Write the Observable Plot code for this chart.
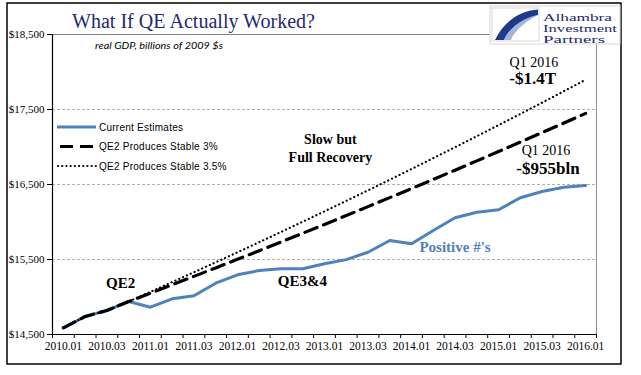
<!DOCTYPE html>
<html>
<head>
<meta charset="utf-8">
<script src="https://cdn.jsdelivr.net/npm/d3@7"></script>
<script src="https://cdn.jsdelivr.net/npm/@observablehq/plot@0.6"></script>
<style>
  body { margin: 0; background: #fff; }
  #wrap { position: relative; width: 641px; height: 375px; overflow: hidden; background: #fff; }
  #wrap > svg { position: absolute; left: 0; top: 0; }
  #overlay { pointer-events: none; }
</style>
</head>
<body>
<div id="wrap"></div>
<script>
// ---- data ----
const quarters = ["2010.01","2010.02","2010.03","2010.04","2011.01","2011.02","2011.03","2011.04",
  "2012.01","2012.02","2012.03","2012.04","2013.01","2013.02","2013.03","2013.04",
  "2014.01","2014.02","2014.03","2014.04","2015.01","2015.02","2015.03","2015.04","2016.01"];
const currentEstimates = [14589,14740,14820,14940,14864,14976,15016,15184,15296,15353,15376,15376,
  15443,15498,15597,15753,15709,15887,16056,16131,16163,16323,16407,16464,16487];
const stable3 = [14589,14740,14820,14940,15051,15163,15275,15388,15502,15617,15733,15850,
  15967,16086,16205,16325,16446,16568,16691,16815,16940,17065,17192,17319,17448];
const stable35 = [14589,14740,14820,14940,15069,15199,15331,15463,15596,15731,15867,16004,
  16142,16282,16422,16564,16707,16852,16997,17144,17292,17441,17592,17744,17897];
const seriesNames = ["Current Estimates","QE2 Produces Stable 3%","QE2 Produces Stable 3.5%"];
const yTicks = [14500,15500,16500,17500,18500];
const gridValues = [15500,16500,17500];
const annotations = [
  {text:"QE2", q:2.63, v:15180, kind:"qe"},
  {text:"QE3&4", q:10.98, v:15210, kind:"qe"},
  {text:"Slow but\nFull Recovery", q:12.27, v:16993, kind:"slow"},
  {text:"Q1 2016", q:21.62, v:18127, kind:"q1"},
  {text:"-$1.4T", q:21.57, v:17913, kind:"big"},
  {text:"Q1 2016", q:22.18, v:16953, kind:"q1"},
  {text:"-$955bln", q:22.27, v:16713, kind:"big"},
  {text:"Positive #'s", q:18.0, v:15660, kind:"pos"}
];
const titleText = "What If QE Actually Worked?";
const subtitleText = "real GDP, billions of 2009 $s";
const logoLines = ["Alhambra","Investment","Partners"];

// ---- build tables ----
const toRows = arr => arr.map((v, i) => ({q: i, v}));
const curRows = toRows(currentEstimates);
const s3Rows = toRows(stable3);
const s35Rows = toRows(stable35);
const boundaries = d3.range(quarters.length + 1).map(i => i - 0.5);
const labelIdx = d3.range(0, quarters.length, 2);
const BLUE = "#4f81bd";
const SERIF = "'Liberation Serif', 'Times New Roman', serif";

const chart = Plot.plot({
  width: 641, height: 375,
  marginLeft: 52, marginRight: 45, marginTop: 34, marginBottom: 41,
  x: {type: "linear", domain: [-0.5, quarters.length - 0.5]},
  y: {domain: [14500, 18500]},
  style: {fontFamily: SERIF, fontSize: "11px", color: "#000", background: "none", overflow: "visible"},
  marks: [
    Plot.gridY(gridValues, {stroke: "#b0b0b0", strokeOpacity: 1, strokeDasharray: "3,2"}),
    Plot.ruleY([18500], {stroke: "#7f7f7f"}),
    Plot.ruleX([quarters.length - 0.5], {stroke: "#8c8c8c"}),
    Plot.line(curRows, {x: "q", y: "v", stroke: BLUE, strokeWidth: 3}),
    Plot.line(s3Rows, {x: "q", y: "v", stroke: "#000", strokeWidth: 3.2, strokeDasharray: "13,7"}),
    Plot.line(s35Rows, {x: "q", y: "v", stroke: "#000", strokeWidth: 2.2, strokeDasharray: "0.1,4.1", strokeLinecap: "round"}),
    Plot.ruleX([-0.5], {stroke: "#000", strokeWidth: 1.2}),
    Plot.ruleY([14500], {stroke: "#000", strokeWidth: 1.2}),
    Plot.axisY(yTicks, {tickSize: 5, tickPadding: 3, tickFormat: d3.format("$,"), label: null, fontSize: 11}),
    Plot.axisX(boundaries, {tickSize: 4, tickFormat: () => "", label: null}),
    Plot.axisX(labelIdx, {tickSize: 0, tickPadding: 7, tickFormat: i => quarters[i], label: null, fontSize: 11.5}),
    Plot.text(annotations.filter(d => d.kind === "qe"), {x: "q", y: "v", text: "text", fontSize: 15, fontWeight: "bold", fill: "#000"}),
    Plot.text(annotations.filter(d => d.kind === "slow"), {x: "q", y: "v", text: "text", fontSize: 14, fontWeight: "bold", lineHeight: 1.3, fill: "#000"}),
    Plot.text(annotations.filter(d => d.kind === "q1"), {x: "q", y: "v", text: "text", fontSize: 14, fill: "#000"}),
    Plot.text(annotations.filter(d => d.kind === "big"), {x: "q", y: "v", text: "text", fontSize: 17, fontWeight: "bold", fill: "#000"}),
    Plot.text(annotations.filter(d => d.kind === "pos"), {x: "q", y: "v", text: "text", fontSize: 15, fontWeight: "bold", fill: BLUE})
  ]
});
const wrap = document.getElementById("wrap");
wrap.appendChild(chart);

// ---- overlay: frame, title, subtitle, logo, legend ----
const ov = d3.select(wrap).append("svg").attr("id", "overlay")
  .attr("width", 641).attr("height", 375);
ov.append("rect").attr("x", 7).attr("y", 3).attr("width", 614).attr("height", 361)
  .attr("fill", "none").attr("stroke", "#000").attr("stroke-width", 1.5);
ov.append("text").attr("x", 72).attr("y", 28).text(titleText)
  .attr("font-family", SERIF).attr("font-size", 20).attr("fill", "#1f2a6e")
  .attr("textLength", 243).attr("lengthAdjust", "spacingAndGlyphs");
ov.append("text").attr("x", 95).attr("y", 49).text(subtitleText)
  .attr("font-family", "Lato, 'Open Sans', sans-serif").attr("font-style", "italic")
  .attr("font-size", 10).attr("fill", "#000")
  .attr("textLength", 128).attr("lengthAdjust", "spacingAndGlyphs");

// logo
const logo = ov.append("g");
logo.append("rect").attr("x", 490).attr("y", 6).attr("width", 130).attr("height", 38)
  .attr("fill", "#fff").attr("stroke", "#d8d8d8").attr("stroke-width", 1);
logo.append("rect").attr("x", 492).attr("y", 8).attr("width", 47).attr("height", 33)
  .attr("fill", "#fff").attr("stroke", "#cfcfcf").attr("stroke-width", 0.8);
logo.append("path")
  .attr("d", "M538,9.5 C518,11 503,23 495,40 L504,40 C508,30 520,19 538,15 Z")
  .attr("fill", "#1f3a8a");
logo.append("path")
  .attr("d", "M538,15 C526,21 514,31 511,40 L504,40 C508,30 520,19 538,15 Z")
  .attr("fill", "#5f79b8").attr("opacity", 0.55);
const logoW = [69, 74, 62];
logoLines.forEach((t, k) => {
  logo.append("text").attr("x", 543).attr("y", 20.5 + k * 11.2).text(t)
    .attr("font-family", SERIF).attr("font-size", 11).attr("fill", "#1c2b6b")
    .attr("textLength", logoW[k]).attr("lengthAdjust", "spacingAndGlyphs");
});

// legend
const leg = ov.append("g").attr("font-family", "'Liberation Sans', Arial, sans-serif").attr("font-size", 10);
const legStyles = [
  {stroke: BLUE, w: 3, dash: null, cap: "butt", x1: 57, x2: 96},
  {stroke: "#000", w: 3.2, dash: "13,7", cap: "butt", x1: 60, x2: 95},
  {stroke: "#000", w: 2.2, dash: "0.1,4.1", cap: "round", x1: 58, x2: 96}
];
seriesNames.forEach((name, k) => {
  const y = 127 + k * 19.5;
  const s = legStyles[k];
  const ln = leg.append("line").attr("x1", s.x1).attr("x2", s.x2).attr("y1", y).attr("y2", y)
    .attr("stroke", s.stroke).attr("stroke-width", s.w).attr("stroke-linecap", s.cap);
  if (s.dash) ln.attr("stroke-dasharray", s.dash);
  leg.append("text").attr("x", 99).attr("y", y + 3.6).text(name).attr("fill", "#000")
    .attr("letter-spacing", "0.25px");
});
</script>
</body>
</html>
